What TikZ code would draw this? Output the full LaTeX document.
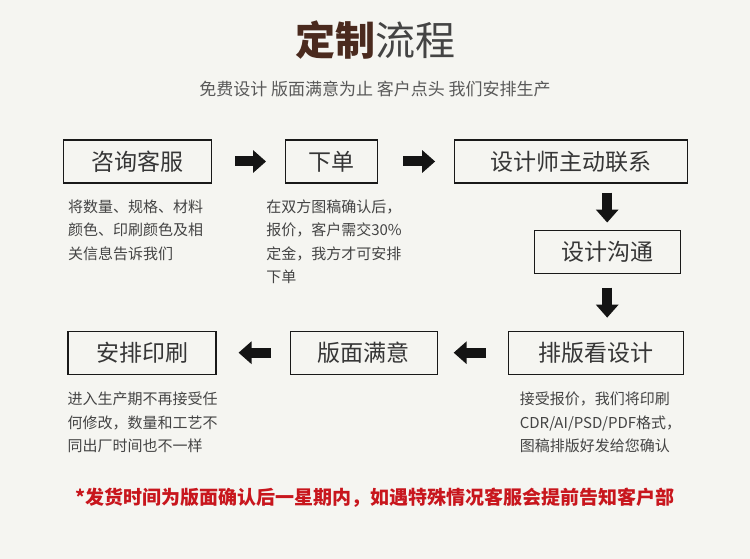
\documentclass[tikz,border=0pt]{standalone}
\usepackage{fontspec}
\setmainfont{Noto Sans CJK SC}
\usetikzlibrary{arrows.meta, positioning}

\definecolor{pagebg}{HTML}{F5F5F1}
\definecolor{titlebrown}{HTML}{4A2A1E}
\definecolor{inkgray}{HTML}{363636}
\definecolor{notegray}{HTML}{444444}
\definecolor{notered}{HTML}{C8161D}

\begin{document}
\begin{tikzpicture}[
    x=1pt, y=-1pt,
    stepbox/.style={rectangle, draw=black!90, line width=1.1pt, inner sep=0pt, minimum height=43pt, text=inkgray, font=\fontsize{23}{26}\selectfont},
    note/.style={inner sep=0pt, align=left, text=notegray, font=\fontsize{15}{23.5}\selectfont},
    blockarrow/.style={line width=10pt, draw=black!92, -{Triangle[length=13pt, width=22pt]}}
]
    % page
    \fill[pagebg] (0,0) rectangle (750,559);

    % heading
    \node (title) at (375,40) {\fontsize{40}{44}\selectfont\textcolor{titlebrown}{\bfseries 定制}\textcolor{notegray}{流程}};
    \node (subtitle) at (375,89) [text=black!65, font=\fontsize{17}{20}\selectfont] {免费设计 版面满意为止 客户点头 我们安排生产};

    % steps
    \node (zixun) at (137.5,161.5) [stepbox, minimum width=148pt] {咨询客服};
    \node (xiadan) [stepbox, minimum width=92pt, right=73pt of zixun] {下单};
    \node (lianxi) [stepbox, minimum width=233pt, right=76pt of xiadan] {设计师主动联系};
    \node (goutong) [stepbox, minimum width=146pt, below=46pt of lianxi, xshift=36pt] {设计沟通};
    \node (paiban) [stepbox, minimum width=175pt, below=57pt of goutong, xshift=-11.5pt] {排版看设计};
    \node (banmian) [stepbox, minimum width=147pt, left=70pt of paiban] {版面满意};
    \node (anpai) [stepbox, minimum width=148pt, left=73pt of banmian] {安排印刷};

    % notes
    \node (zixun note) [note, below=16pt of zixun.south west, anchor=north west, xshift=5pt] {将数量、规格、材料\\颜色、印刷颜色及相\\关信息告诉我们};
    \node (xiadan note) [note, below=16pt of xiadan.south west, anchor=north west, xshift=-19pt] {在双方图稿确认后，\\报价，客户需交30\%\\定金，我方才可安排\\下单};
    \node (anpai note) [note, below=17pt of anpai.south west, anchor=north west] {进入生产期不再接受任\\何修改，数量和工艺不\\同出厂时间也不一样};
    \node (paiban note) [note, below=17pt of paiban.south west, anchor=north west, xshift=12pt] {接受报价，我们将印刷\\CDR/AI/PSD/PDF格式，\\图稿排版好发给您确认};

    \node (remark) at (375,498) [text=notered, font=\fontsize{19}{22}\selectfont\bfseries] {*发货时间为版面确认后一星期内，如遇特殊情况客服会提前告知客户部};

    % arrows
    \draw[blockarrow, shorten <=23pt, shorten >=19pt] (zixun) -- (xiadan);
    \draw[blockarrow, shorten <=25pt, shorten >=19pt] (xiadan) -- (lianxi);
    \draw[blockarrow, shorten <=9pt, shorten >=7pt] (lianxi.south -| goutong) -- (goutong);
    \draw[blockarrow, shorten <=14pt, shorten >=13pt] (goutong) -- (goutong |- paiban.north);
    \draw[blockarrow, shorten <=22pt, shorten >=16pt] (paiban) -- (banmian);
    \draw[blockarrow, shorten <=19pt, shorten >=22pt] (banmian) -- (anpai);
\end{tikzpicture}
\end{document}
